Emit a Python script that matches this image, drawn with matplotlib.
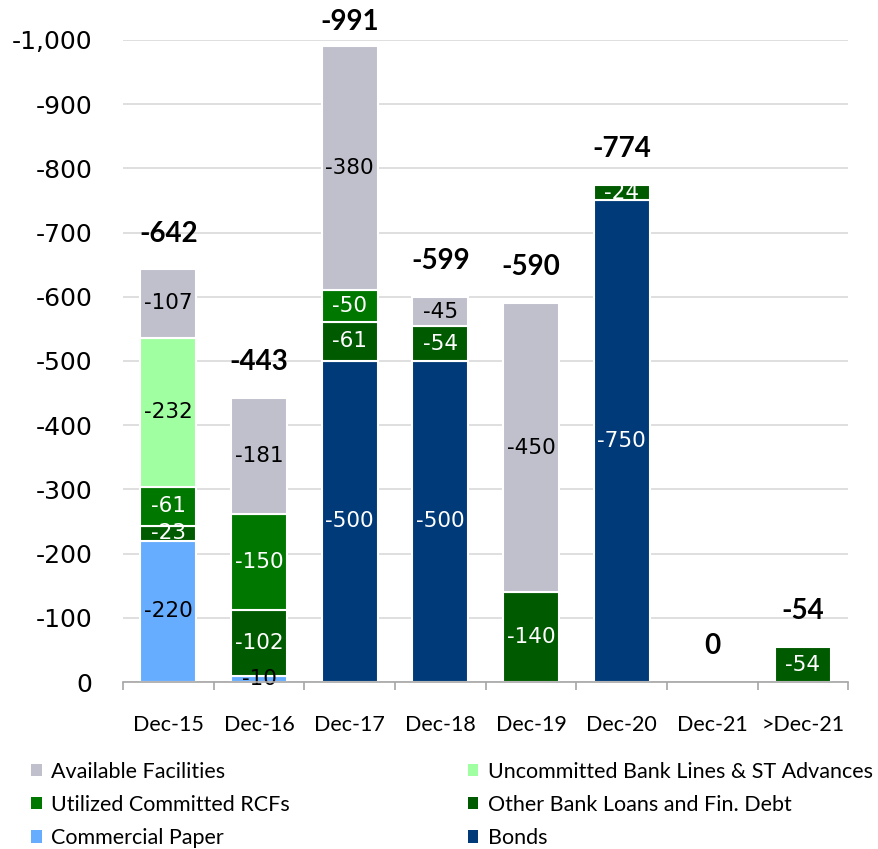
import matplotlib
matplotlib.use("Agg")
import matplotlib.pyplot as plt
import numpy as np
from matplotlib.ticker import FuncFormatter
from matplotlib.patches import Patch

categories = ["Dec-15", "Dec-16", "Dec-17", "Dec-18", "Dec-19", "Dec-20", "Dec-21", ">Dec-21"]

# stacking order bottom -> top
commercial_paper = [-220, -10, 0, 0, 0, 0, 0, 0]
bonds = [0, 0, -500, -500, 0, -750, 0, 0]
other_bank_loans = [-23, -102, -61, -54, -140, -24, 0, -54]
utilized_rcfs = [-61, -150, -50, 0, 0, 0, 0, 0]
uncommitted = [-232, 0, 0, 0, 0, 0, 0, 0]
available = [-107, -181, -380, -45, -450, 0, 0, 0]
totals = [-642, -443, -991, -599, -590, -774, 0, -54]

series = [
    ("Commercial Paper", commercial_paper, "#66ADFF", "black"),
    ("Bonds", bonds, "#003A78", "white"),
    ("Other Bank Loans and Fin. Debt", other_bank_loans, "#005A00", "white"),
    ("Utilized Committed RCFs", utilized_rcfs, "#007800", "white"),
    ("Uncommitted Bank Lines & ST Advances", uncommitted, "#A0FFA0", "black"),
    ("Available Facilities", available, "#C0C0CC", "black"),
]

fig = plt.figure(figsize=(8.79, 8.49), dpi=100)
ax = fig.add_axes([0.14, 0.1967, 0.825, 0.7563])

x = np.arange(len(categories))
width = 0.62
bottom = np.zeros(len(categories))
for name, vals, color, tcolor in series:
    vals = np.array(vals, dtype=float)
    heights = np.where(vals == 0, np.nan, vals)
    ax.bar(x, heights, width, bottom=bottom, color=color, edgecolor="white",
           linewidth=1.5, label=name, zorder=3)
    for i, v in enumerate(vals):
        if v != 0:
            ax.text(x[i], bottom[i] + v / 2, f"{int(v)}", ha="center", va="center",
                    color=tcolor, fontsize=15.5, family="DejaVu Sans", zorder=4)
    bottom += vals

for i, t in enumerate(totals):
    y = max(min(t, 0) - 56, -1028)
    ax.text(x[i], y, f"{t}", ha="center", va="center", fontsize=20,
            fontweight="bold", family="Lato", clip_on=False, zorder=5)

ax.set_xlim(-0.5, len(categories) - 0.5)
ax.set_ylim(0, -1000)
ax.set_yticks(np.arange(0, -1001, -100))
ax.yaxis.set_major_formatter(FuncFormatter(lambda v, p: f"{int(v):,}"))
ax.yaxis.grid(True, color="#D9D9D9", linewidth=1.2, zorder=0)
ax.set_axisbelow(True)
for s in ["top", "right", "left"]:
    ax.spines[s].set_visible(False)
ax.spines["bottom"].set_color("#A6A6A6")
ax.spines["bottom"].set_linewidth(1.2)
ax.spines["bottom"].set_zorder(5)
ax.tick_params(axis="y", length=0, pad=22, labelsize=18)
for lbl in ax.get_yticklabels():
    lbl.set_family("DejaVu Sans")
ax.set_xticks(x)
ax.set_xticklabels(categories, family="Lato", fontsize=15.5)
ax.set_xticks(np.arange(-0.5, len(categories), 1), minor=True)
ax.tick_params(axis="x", which="major", length=0, pad=24)
ax.tick_params(axis="x", which="minor", length=6, color="#A6A6A6", width=1.2)

handle_map = {name: Patch(facecolor=c, edgecolor="none") for name, _, c, _ in series}
left_names = ["Available Facilities", "Utilized Committed RCFs", "Commercial Paper"]
right_names = ["Uncommitted Bank Lines & ST Advances", "Other Bank Loans and Fin. Debt", "Bonds"]
common = dict(frameon=False, prop={"family": "Lato", "size": 15.5}, handlelength=0.5,
              handleheight=0.5, handletextpad=0.45, labelspacing=0.62, loc="upper left",
              borderaxespad=0, borderpad=0)
fig.legend([handle_map[n] for n in left_names], left_names,
           bbox_to_anchor=(0.035, 0.103), **common)
fig.legend([handle_map[n] for n in right_names], right_names,
           bbox_to_anchor=(0.532, 0.103), **common)

fig.savefig("out.png", dpi=100)
